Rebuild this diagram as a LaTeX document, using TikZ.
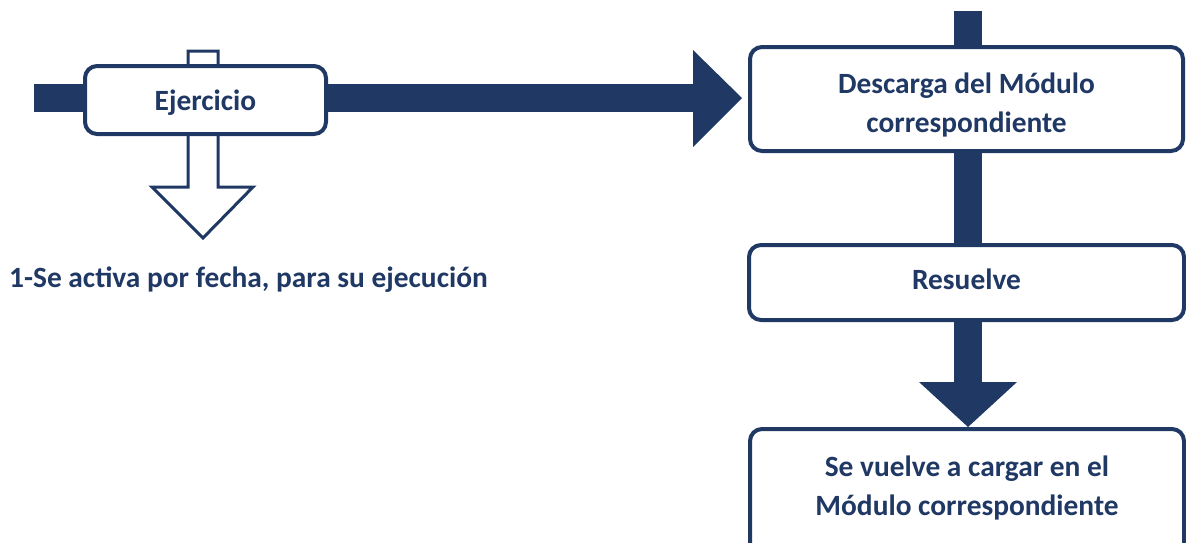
\documentclass[tikz,border=0pt]{standalone}
\usepackage{fontspec}
\setmainfont{Carlito}
\definecolor{navy}{RGB}{32,56,100}
\tikzset{
  box/.style={draw=navy, line width=4pt, rounded corners=12pt, fill=white, inner sep=0pt},
  lbl/.style={text=navy, font=\bfseries\fontsize{29.4}{39}\selectfont, inner sep=0pt, align=center},
  bar/.style={fill=navy, draw=none}
}
\begin{document}
\begin{tikzpicture}[x=1pt,y=-1pt]
\useasboundingbox (0,0) rectangle (1186,542);
% horizontal bar and arrow head
\fill[bar] (34,84) rectangle (695,112);
\fill[bar] (693,50) -- (742,98) -- (693,147) -- cycle;
% vertical bars
\fill[bar] (954,11) rectangle (982,243);
\fill[bar] (954,322) rectangle (982,383);
\fill[bar] (919,382) -- (1017,382) -- (968,427) -- cycle;
% hollow down arrow
\draw[navy, line width=3pt, fill=white, line join=miter]
  (188,51) -- (218,51) -- (218,187) -- (253,187) -- (203,238) -- (152,187) -- (188,187) -- cycle;
% boxes
\node[box, minimum width=241pt, minimum height=68pt] (ej) at (205.5,100) {};
\node[box, minimum width=433pt, minimum height=104pt] (desc) at (966.5,99) {};
\node[box, minimum width=435pt, minimum height=75pt] (res) at (966.5,282.5) {};
\node[box, minimum width=434pt, minimum height=130pt] (carga) at (967,494) {};
% texts
\node[lbl] (ejt) at ([yshift=-3pt]ej.center) {Ejercicio};
\node[lbl] (desct) at ([yshift=-5.5pt]desc.center) {Descarga del Módulo\\correspondiente};
\node[lbl] (rest) at ([yshift=3.5pt]res.center) {Resuelve};
\node[lbl] (cargat) at (967,488) {Se vuelve a cargar en el\\Módulo correspondiente};
\node[lbl, anchor=west] (nota) at (9,280) {1-Se activa por fecha, para su ejecución};
\end{tikzpicture}
\end{document}
